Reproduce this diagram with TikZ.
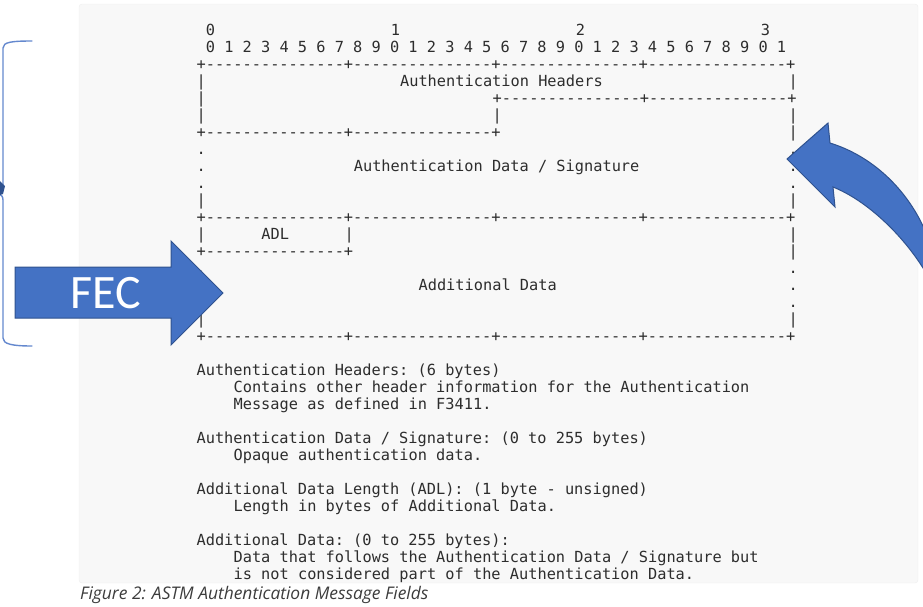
\documentclass[tikz,border=0pt]{standalone}
\usepackage{fontspec}
\setmainfont{Open Sans}
\setmonofont{DejaVu Sans Mono}
\newfontfamily\fecfont{Carlito}
\definecolor{codebg}{RGB}{248,248,248}
\definecolor{codeframe}{RGB}{238,238,238}
\definecolor{codeink}{RGB}{45,45,45}
\definecolor{fecblue}{RGB}{68,114,196}
\definecolor{fecedge}{RGB}{47,82,143}
\definecolor{bracecol}{RGB}{100,136,206}
\definecolor{capink}{RGB}{60,60,60}
\newcommand{\cw}{9.25}% column pitch
\newcommand{\lh}{17}% line pitch
\tikzset{
  asctext/.style={inner sep=0pt,anchor=base west,text=codeink,
    font=\ttfamily\fontsize{15.3}{17}\selectfont\frenchspacing},
  blockarr/.style={fill=fecblue,draw=fecedge,line width=1pt,line join=miter},
  bracearr/.style={draw=bracecol,line width=1.4pt,line cap=round},
  captext/.style={inner sep=0pt,anchor=base west,text=capink,
    font=\itshape\fontsize{17.4}{20}\selectfont}
}
% one piece of the ascii layout: row, column, text
\newcommand{\asc}[3]{\node[asctext] (r#1c#2) at ({196.4+\cw*#2},{35+\lh*#1}) {#3};}

\begin{document}
\begin{tikzpicture}[x=1pt,y=-1pt]
  \useasboundingbox (0,0) rectangle (923,606);
  \clip (0,0) rectangle (923,606);

  \draw[codeframe,fill=codebg,rounded corners=3pt] (79,4) rectangle (918,583);

  % bit ruler
  \asc{0}{1}{0} \asc{0}{21}{1} \asc{0}{41}{2} \asc{0}{61}{3}
  \asc{1}{1}{0 1 2 3 4 5 6 7 8 9 0 1 2 3 4 5 6 7 8 9 0 1 2 3 4 5 6 7 8 9 0 1}

  % message layout
  \asc{2}{0}{+---------------+---------------+---------------+---------------+}
  \asc{3}{0}{|} \asc{3}{22}{Authentication Headers} \asc{3}{64}{|}
  \asc{4}{0}{|} \asc{4}{32}{+---------------+---------------+}
  \asc{5}{0}{|} \asc{5}{32}{|} \asc{5}{64}{|}
  \asc{6}{0}{+---------------+---------------+} \asc{6}{64}{|}
  \asc{7}{0}{.} \asc{7}{64}{.}
  \asc{8}{0}{.} \asc{8}{17}{Authentication Data / Signature} \asc{8}{64}{.}
  \asc{9}{0}{.} \asc{9}{64}{.}
  \asc{10}{0}{|} \asc{10}{64}{|}
  \asc{11}{0}{+---------------+---------------+---------------+---------------+}
  \asc{12}{0}{|} \asc{12}{7}{ADL} \asc{12}{16}{|} \asc{12}{64}{|}
  \asc{13}{0}{+---------------+} \asc{13}{64}{|}
  \asc{14}{0}{.} \asc{14}{64}{.}
  \asc{15}{0}{.} \asc{15}{24}{Additional Data} \asc{15}{64}{.}
  \asc{16}{0}{.} \asc{16}{64}{.}
  \asc{17}{0}{|} \asc{17}{64}{|}
  \asc{18}{0}{+---------------+---------------+---------------+---------------+}

  % field notes
  \asc{20}{0}{Authentication Headers: (6 bytes)}
  \asc{21}{4}{Contains other header information for the Authentication}
  \asc{22}{4}{Message as defined in F3411.}
  \asc{24}{0}{Authentication Data / Signature: (0 to 255 bytes)}
  \asc{25}{4}{Opaque authentication data.}
  \asc{27}{0}{Additional Data Length (ADL): (1 byte - unsigned)}
  \asc{28}{4}{Length in bytes of Additional Data.}
  \asc{30}{0}{Additional Data: (0 to 255 bytes):}
  \asc{31}{4}{Data that follows the Authentication Data / Signature but}
  \asc{32}{4}{is not considered part of the Authentication Data.}

  \node[captext] (caption) at (80,599) {Figure 2: ASTM Authentication Message Fields};

  % left brace
  \draw[bracearr] (32,41) .. controls (12,41) and (3,42) .. (3,48) -- (3,184)
      .. controls (3,188) and (1,190) .. (-1,191);
  \draw[bracearr] (-1,194) .. controls (1,195) and (3,196) .. (3,200) -- (3,338)
      .. controls (3,344) and (12,346) .. (32,346);
  \fill[fecedge] (0,181) -- (5,186) -- (3,194) -- (0,195) -- cycle;

  % FEC block arrow
  \draw[blockarr] (15,267) -- (171,267) -- (171,241) -- (223,293)
      -- (171,345) -- (171,318) -- (15,318) -- cycle;
  \node[text=white,font=\fecfont\fontsize{48}{50}\selectfont,inner sep=0pt] (fec) at (106,293) {FEC};

  % curved arrow on the right
  \draw[blockarr] (787,159) -- (828,123) -- (830,143)
      .. controls (872,156) and (905,188) .. (923,226)
      -- (945,256) -- (950,280) -- (940,290) -- (923,268)
      .. controls (903,236) and (868,201) .. (833,187)
      -- (835,207) -- cycle;
\end{tikzpicture}
\end{document}
